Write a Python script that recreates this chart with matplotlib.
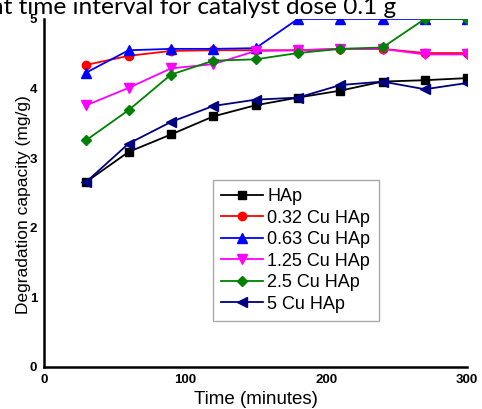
import matplotlib
matplotlib.use("Agg")
import matplotlib.pyplot as plt

time = [30, 60, 90, 120, 150, 180, 210, 240, 270, 300]
labels = ["HAp", "0.32 Cu HAp", "0.63 Cu HAp", "1.25 Cu HAp", "2.5 Cu HAp", "5 Cu HAp"]
hap = [2.66, 3.09, 3.34, 3.60, 3.76, 3.87, 3.97, 4.10, 4.12, 4.15]
cu032 = [4.34, 4.47, 4.54, 4.55, 4.55, 4.55, 4.57, 4.57, 4.51, 4.51]
cu063 = [4.23, 4.55, 4.57, 4.57, 4.58, 5.0, 5.0, 5.0, 5.0, 5.0]
cu125 = [3.76, 4.01, 4.29, 4.35, 4.54, 4.55, 4.57, 4.57, 4.49, 4.49]
cu25 = [3.26, 3.69, 4.20, 4.40, 4.42, 4.51, 4.57, 4.59, 5.0, 5.0]
cu5 = [2.66, 3.21, 3.52, 3.75, 3.84, 3.87, 4.05, 4.10, 3.99, 4.08]
series = [hap, cu032, cu063, cu125, cu25, cu5]
colors = ["black", "red", "#0000ff", "#ff00ff", "#008000", "#000080"]
markers = ["s", "o", "^", "v", "D", "<"]
msizes = [5.5, 6, 6.5, 6.5, 5, 6.5]

plt.rcParams['font.family'] = ['Liberation Sans', 'DejaVu Sans']
fig = plt.figure(figsize=(4.82, 4.09), dpi=100)
ax = fig.add_axes([0.0913, 0.1027, 0.878, 0.851])

for y, c, m, ms, lab in zip(series, colors, markers, msizes, labels):
    ax.plot(time, y, color=c, marker=m, markersize=ms, linewidth=1.3, label=lab)

ax.set_xlim(0, 300)
ax.set_ylim(0, 5)
ax.set_xticks([0, 100, 200, 300])
ax.set_yticks([0, 1, 2, 3, 4, 5])
for s in ["top", "right"]:
    ax.spines[s].set_visible(False)
for s in ["left", "bottom"]:
    ax.spines[s].set_linewidth(1.8)
ax.tick_params(length=0, labelsize=9.5, pad=5)
for t in ax.get_xticklabels() + ax.get_yticklabels():
    t.set_fontweight('bold')

ax.set_xlabel("Time (minutes)", fontsize=13.5, labelpad=4)
ax.set_ylabel("Degradation capacity (mg/g)", fontsize=12.5)
ax.yaxis.set_label_coords(-0.031, 0.466)

leg = ax.legend(loc='upper left', bbox_to_anchor=(0.40, 0.537), borderaxespad=0,
                fontsize=13, fancybox=False, edgecolor='#aaaaaa', handlelength=2.3,
                handletextpad=0.25, labelspacing=0.25, borderpad=0.45, framealpha=1)
leg.get_frame().set_linewidth(1.0)

fig.text(396/482, 1 - 14/409,
         "Degradation capacity at different time interval for catalyst dose 0.1 g",
         ha='right', va='baseline', fontsize=17.6, family=['Lato', 'DejaVu Sans'])

fig.savefig("out.png", dpi=100)
